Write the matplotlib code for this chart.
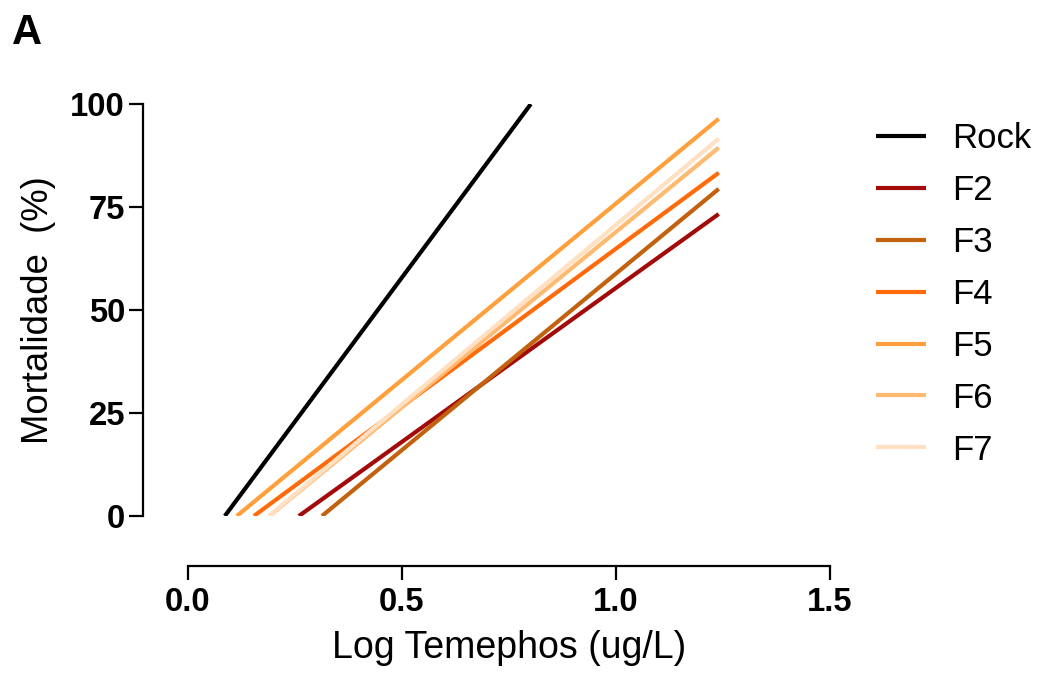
import matplotlib
matplotlib.use("Agg")
import matplotlib.pyplot as plt
from matplotlib import font_manager

# ---- data ----
series = ["Rock", "F2", "F3", "F4", "F5", "F6", "F7"]
x_start = [0.086, 0.259, 0.313, 0.154, 0.114, 0.190, 0.189]
x_end = [0.801, 1.240, 1.240, 1.240, 1.240, 1.240, 1.240]
y_start = [0, 0, 0, 0, 0, 0, 0]
y_end = [100, 73.3, 79.4, 83.3, 96.4, 89.4, 91.6]
colors = ["#000000", "#A30A0A", "#C2610E", "#FF6A0A", "#FFA03C", "#FFBA72", "#FFE0C2"]
x_ticks = [0.0, 0.5, 1.0, 1.5]
x_ticklabels = ["0.0", "0.5", "1.0", "1.5"]
y_ticks = [0, 25, 50, 75, 100]

names = {f.name for f in font_manager.fontManager.ttflist}
narrow = "Liberation Sans Narrow" in names
plt.rcParams["font.family"] = (["Liberation Sans Narrow"] if narrow else []) + ["Liberation Sans", "DejaVu Sans"]
k = 1.13 if narrow else 1.0

W, H, DPI = 1043, 673, 100
fig = plt.figure(figsize=(W / DPI, H / DPI), dpi=DPI)
ax = fig.add_axes([188 / W, 1 - 516 / H, (830 - 188) / W, (516 - 104) / H])

for name, xs, xe, ys, ye, c in zip(series, x_start, x_end, y_start, y_end, colors):
    ax.plot([xs, xe], [ys, ye], color=c, lw=3.0, label=name, solid_capstyle="butt")

ax.set_xlim(0, 1.5)
ax.set_ylim(0, 100)
ax.set_xticks(x_ticks)
ax.set_xticklabels(x_ticklabels)
ax.set_yticks(y_ticks)

for s in ["top", "right"]:
    ax.spines[s].set_visible(False)
ax.spines["left"].set_position(("outward", 45 * 72 / DPI))
ax.spines["bottom"].set_position(("outward", 50 * 72 / DPI))
for s in ["left", "bottom"]:
    ax.spines[s].set_linewidth(1.6)

ax.tick_params(axis="both", length=10, width=1.6, direction="out")
ax.tick_params(axis="y", pad=3)
ax.tick_params(axis="x", pad=5)
for lab in ax.get_xticklabels() + ax.get_yticklabels():
    lab.set_fontsize(23 * k * 1.03)
    lab.set_fontweight("bold")

ax.set_xlabel("Log Temephos (ug/L)", fontsize=25 * k * 1.08, labelpad=9)
ax.set_ylabel("Mortalidade  (%)", fontsize=25 * k * 1.05, labelpad=10)

leg = ax.legend(loc="upper left", bbox_to_anchor=(876 / W, 1 - 122 / H),
                bbox_transform=fig.transFigure, frameon=False, fontsize=25 * k,
                handlelength=1.45 / k, handletextpad=0.75 / k, labelspacing=0.545,
                borderaxespad=0, borderpad=0)
for line in leg.get_lines():
    line.set_linewidth(3.0)

fig.text(12 / W, 1 - 44 / H, "A", fontsize=30, fontweight="bold",
         family=["Liberation Sans", "DejaVu Sans"], ha="left", va="baseline")

fig.savefig("out.png", dpi=DPI)
